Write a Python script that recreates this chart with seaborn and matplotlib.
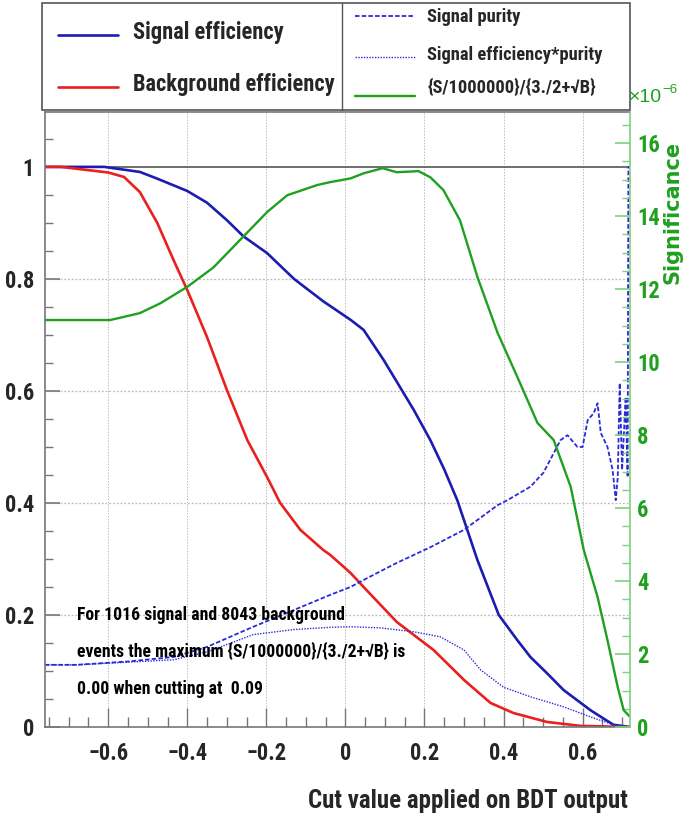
import os
import numpy as np
import pandas as pd
import matplotlib
matplotlib.use("Agg")
import matplotlib.pyplot as plt
import seaborn as sns
from matplotlib import font_manager
from matplotlib.font_manager import FontProperties
from matplotlib.lines import Line2D
from matplotlib.patches import Rectangle
from matplotlib.ticker import MultipleLocator

# ---------------- data ----------------
sig_eff_x = [-0.76, -0.61, -0.52, -0.476, -0.40, -0.35, -0.30, -0.258, -0.198, -0.13,
             -0.056, 0.013, 0.046, 0.097, 0.173, 0.215, 0.25, 0.283, 0.334, 0.388,
             0.435, 0.468, 0.51, 0.552, 0.62, 0.678, 0.72]
sig_eff_y = [1.0, 1.0, 0.991, 0.979, 0.957, 0.936, 0.905, 0.876, 0.846, 0.800,
             0.760, 0.727, 0.709, 0.655, 0.566, 0.512, 0.46, 0.405, 0.298, 0.200,
             0.155, 0.125, 0.096, 0.066, 0.030, 0.004, 0.0]

bkg_eff_x = [-0.76, -0.72, -0.60, -0.56, -0.52, -0.476, -0.435, -0.40, -0.35, -0.30,
             -0.248, -0.198, -0.165, -0.114, -0.056, -0.038, 0.013, 0.046, 0.13, 0.223,
             0.30, 0.367, 0.425, 0.51, 0.595, 0.72]
bkg_eff_y = [1.0, 1.0, 0.990, 0.982, 0.955, 0.900, 0.834, 0.780, 0.696, 0.602,
             0.512, 0.446, 0.400, 0.352, 0.316, 0.307, 0.275, 0.250, 0.1875, 0.1375,
             0.084, 0.043, 0.025, 0.009, 0.002, 0.0]

purity_x = [-0.76, -0.68, -0.55, -0.435, -0.35, -0.233, -0.13, -0.038, 0.013, 0.046,
            0.13, 0.215, 0.30, 0.385, 0.41, 0.468, 0.501, 0.527, 0.544, 0.562,
            0.587, 0.60, 0.613, 0.628, 0.638, 0.646, 0.663, 0.676, 0.684, 0.689,
            0.694, 0.70, 0.709, 0.714, 0.716, 0.72]
purity_y = [0.111, 0.111, 0.117, 0.125, 0.143, 0.179, 0.209, 0.236, 0.250, 0.2625,
            0.293, 0.321, 0.352, 0.396, 0.405, 0.429, 0.454, 0.489, 0.512, 0.521,
            0.500, 0.500, 0.548, 0.560, 0.578, 0.525, 0.500, 0.459, 0.405, 0.446,
            0.614, 0.459, 0.589, 0.446, 1.0, 1.0]

effpur_x = [-0.76, -0.68, -0.435, -0.35, -0.233, -0.13, -0.038, 0.013, 0.089, 0.173,
            0.24, 0.30, 0.342, 0.40, 0.468, 0.552, 0.62, 0.678, 0.72]
effpur_y = [0.111, 0.111, 0.120, 0.134, 0.165, 0.174, 0.178, 0.179, 0.177, 0.170,
            0.161, 0.1375, 0.102, 0.071, 0.054, 0.036, 0.018, 0.004, 0.0]

# significance in units of 1e-6
signif_x = [-0.76, -0.595, -0.52, -0.468, -0.40, -0.334, -0.266, -0.198, -0.147, -0.071,
            -0.038, 0.013, 0.046, 0.094, 0.13, 0.185, 0.215, 0.248, 0.29, 0.334,
            0.385, 0.435, 0.486, 0.527, 0.57, 0.603, 0.638, 0.663, 0.689, 0.704, 0.72]
signif_y = [11.15, 11.15, 11.34, 11.61, 12.06, 12.59, 13.35, 14.11, 14.57, 14.85,
            14.93, 15.03, 15.17, 15.31, 15.20, 15.23, 15.06, 14.71, 13.88, 12.33,
            10.80, 9.59, 8.33, 7.86, 6.58, 4.85, 3.56, 2.38, 1.09, 0.46, 0.28]

x_ticks = [-0.6, -0.4, -0.2, 0, 0.2, 0.4, 0.6]
x_tick_labels = ["\u22120.6", "\u22120.4", "\u22120.2", "0", "0.2", "0.4", "0.6"]
y_ticks = [0, 0.2, 0.4, 0.6, 0.8, 1]
y_tick_labels = ["0", "0.2", "0.4", "0.6", "0.8", "1"]
r_ticks = [0, 2, 4, 6, 8, 10, 12, 14, 16]

legend_left = ["Signal efficiency", "Background efficiency"]
legend_right = ["Signal purity", "Signal efficiency*purity", "{S/1000000}/{3./2+\u221aB}"]
note_lines = ["For 1016 signal and 8043 background",
              "events the maximum {S/1000000}/{3./2+\u221aB} is",
              "0.00 when cutting at  0.09"]
x_title = "Cut value applied on BDT output"
r_title = "Significance"
r_mult = "\u00d710"
r_exp = "\u22126"

# ---------------- style ----------------
sns.set_theme(style="white")
plt.rcParams["font.family"] = ["Liberation Sans", "DejaVu Sans"]


def pick_condensed_bold():
    pref = ["Liberation Sans Narrow", "Roboto Condensed", "DejaVu Sans", "Open Sans",
            "Noto Sans", "Lato", "Inter", "Roboto", "Liberation Sans"]
    found = []
    for f in font_manager.fontManager.ttflist:
        base = os.path.basename(f.fname)
        if "Italic" in base or "Oblique" in base or "Mono" in base or "Serif" in base:
            continue
        st = f.stretch
        if isinstance(st, str):
            cond = st in ("condensed", "semi-condensed", "extra-condensed", "ultra-condensed")
        else:
            cond = st < 500
        cond = cond or any(k in f.name or k in base for k in ("Narrow", "Condensed"))
        w = f.weight
        if isinstance(w, str):
            bold = w in ("bold", "semibold", "demibold", "heavy", "extra bold", "black")
        else:
            bold = w >= 600
        bold = bold or "Bold" in base
        if cond and bold and "SemiBold" not in base and "ExtraBold" not in base:
            rank = pref.index(f.name) if f.name in pref else len(pref)
            found.append((rank, f.fname))
    if found:
        found.sort()
        return found[0][1]
    return None


COND = pick_condensed_bold()


def FP(size):
    if COND:
        return FontProperties(fname=COND, size=size)
    return FontProperties(family="Liberation Sans", weight="bold", size=size)


C_SIG = "#1c1cb0"
C_BKG = "#e8201e"
C_PUR = "#2a2ad8"
C_GRN = "#1fa01f"
C_GRN_AX = "#7fd07f"

W, H = 684, 827
fig = plt.figure(figsize=(W / 100, H / 100), dpi=100)
renderer = fig.canvas.get_renderer()


def fx(px):
    return px / W


def fy(py):
    return 1 - py / H


def fit_size(s, target_px, base=20.0):
    t = fig.text(0, 0, s, fontproperties=FP(base))
    w = t.get_window_extent(renderer).width
    t.remove()
    return base * target_px / w


ax = fig.add_axes([fx(45), fy(727), (630 - 45) / W, (727 - 112) / H])
ax2 = ax.twinx()

XMIN, XMAX = -0.76, 0.72
ax.set_xlim(XMIN, XMAX)
ax.set_ylim(0, 1.098)
ax2.set_ylim(0, 16.85)

# grid
for xv in x_ticks:
    ax.axvline(xv, color="#bbbbbb", lw=0.7, ls=(0, (1.5, 1.5)), zorder=0)
for yv in [0.2, 0.4, 0.6, 0.8]:
    ax.axhline(yv, color="#bbbbbb", lw=0.9, ls=(0, (1.5, 1.5)), zorder=0)
ax.axhline(1.0, color="#555555", lw=1.2, zorder=1)

df_sig = pd.DataFrame({"x": sig_eff_x, "y": sig_eff_y})
df_bkg = pd.DataFrame({"x": bkg_eff_x, "y": bkg_eff_y})
df_pur = pd.DataFrame({"x": purity_x, "y": purity_y})
df_ep = pd.DataFrame({"x": effpur_x, "y": effpur_y})
df_sg = pd.DataFrame({"x": signif_x, "y": signif_y})

sns.lineplot(data=df_sig, x="x", y="y", ax=ax, color=C_SIG, lw=1.9, estimator=None, sort=False)
sns.lineplot(data=df_bkg, x="x", y="y", ax=ax, color=C_BKG, lw=1.9, estimator=None, sort=False)
sns.lineplot(data=df_pur, x="x", y="y", ax=ax, color=C_PUR, lw=1.3, linestyle=(0, (2.5, 1.2)),
             estimator=None, sort=False)
sns.lineplot(data=df_ep, x="x", y="y", ax=ax, color=C_PUR, lw=1.0, linestyle=(0, (1, 1)),
             estimator=None, sort=False)
sns.lineplot(data=df_sg, x="x", y="y", ax=ax2, color=C_GRN, lw=1.7, estimator=None, sort=False)

ax.set_xlabel("")
ax.set_ylabel("")
ax2.set_ylabel("")

for s in ["left", "bottom", "top"]:
    ax.spines[s].set_color("#777777")
    ax.spines[s].set_linewidth(1.2)
ax.spines["right"].set_visible(False)
for s in ["left", "bottom", "top"]:
    ax2.spines[s].set_visible(False)
ax2.spines["right"].set_color(C_GRN_AX)
ax2.spines["right"].set_linewidth(1.2)

tick_size = fit_size("\u22120.6", 31) * 1.3
ax.set_xticks(x_ticks)
ax.set_xticklabels(x_tick_labels, fontproperties=FP(tick_size))
ax.set_yticks(y_ticks)
ax.set_yticklabels(y_tick_labels, fontproperties=FP(tick_size))
ax.xaxis.set_minor_locator(MultipleLocator(0.05))
ax.yaxis.set_minor_locator(MultipleLocator(0.05))
ax.tick_params(axis="x", which="major", direction="in", length=14, width=1, color="#777777",
               pad=11, bottom=True, top=False)
ax.tick_params(axis="x", which="minor", direction="in", length=7, width=1, color="#777777",
               bottom=True, top=False)
ax.tick_params(axis="y", which="major", direction="in", length=11, width=1.2, color="#777777",
               pad=8, left=True, right=False)
ax.tick_params(axis="y", which="minor", direction="in", length=6, width=1, color="#777777",
               left=True, right=False)

ax2.set_yticks(r_ticks)
ax2.set_yticklabels([str(t) for t in r_ticks], fontproperties=FP(tick_size), color=C_GRN)
ax2.yaxis.set_minor_locator(MultipleLocator(0.5))
ax2.tick_params(axis="y", which="major", direction="in", length=11, width=1.2, color=C_GRN_AX,
                pad=5, right=True, left=False)
ax2.tick_params(axis="y", which="minor", direction="in", length=6, width=1, color=C_GRN_AX,
                right=True, left=False)

# axis titles
fig.text(fx(628), fy(801), x_title, ha="right", va="center",
         fontproperties=FP(fit_size(x_title, 256) * 1.25))
fig.text(fx(672), fy(212), r_title, rotation=90, ha="center", va="center",
         fontproperties=FontProperties(family="DejaVu Sans", weight="bold", size=15),
         color=C_GRN)
t_mult = fig.text(fx(629), fy(97), r_mult, ha="left", va="center",
                  fontproperties=FontProperties(family="Liberation Sans", size=14), color=C_GRN)
mult_w = t_mult.get_window_extent(renderer).width
fig.text(fx(629 + mult_w), fy(90), r_exp, ha="left", va="center",
         fontproperties=FontProperties(family="Liberation Sans", size=9.5), color=C_GRN)

# note text
note_size = fit_size(note_lines[0], 213) * 1.25
for py, t in zip([615, 651, 689], note_lines):
    fig.text(fx(77), fy(py), t, ha="left", va="center", fontproperties=FP(note_size),
             color="black")

# legend box
fig.patches.append(Rectangle((fx(42), fy(110)), (630 - 42) / W, (110 - 3) / H,
                             transform=fig.transFigure, fill=False, ec="#555555", lw=1.2))
fig.lines.append(Line2D([fx(342), fx(342)], [fy(3), fy(110)], transform=fig.transFigure,
                        color="#555555", lw=1.0))
legL_size = fit_size(legend_left[1], 187) * 1.08
leg_styles_left = [dict(color=C_SIG, lw=1.9), dict(color=C_BKG, lw=1.9)]
for py, lab, st in zip([35, 87], legend_left, leg_styles_left):
    fig.lines.append(Line2D([fx(58), fx(118)], [fy(py), fy(py)], transform=fig.transFigure, **st))
    fig.text(fx(133), fy(py - 3), lab, ha="left", va="center", fontproperties=FP(legL_size))
legR_size = fit_size(legend_right[1], 146) * 1.2
leg_styles_right = [dict(color=C_PUR, lw=1.3, ls=(0, (2.5, 1.2))),
                    dict(color=C_PUR, lw=1.0, ls=(0, (1, 1))),
                    dict(color=C_GRN, lw=1.7)]
for ly, ty, lab, st in zip([16, 57, 96], [17, 55, 88], legend_right, leg_styles_right):
    fig.lines.append(Line2D([fx(355), fx(415)], [fy(ly), fy(ly)], transform=fig.transFigure, **st))
    fig.text(fx(427), fy(ty), lab, ha="left", va="center", fontproperties=FP(legR_size))

fig.savefig("out.png", dpi=100, facecolor="white")
